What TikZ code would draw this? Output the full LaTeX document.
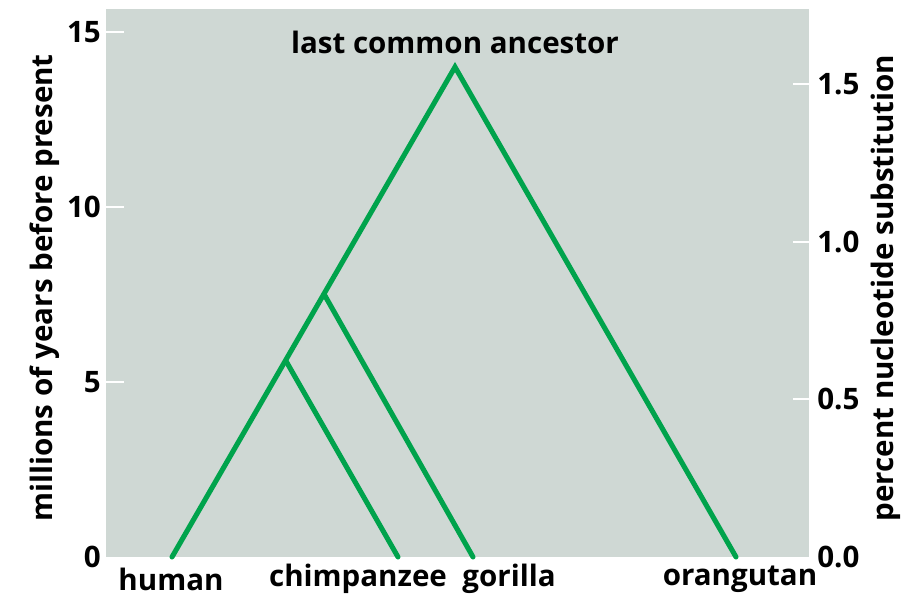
\documentclass[tikz,border=0pt]{standalone}
\usepackage{fontspec}
\setmainfont{Open Sans}
\usetikzlibrary{positioning}
\definecolor{panelgray}{RGB}{207,216,212}
\definecolor{treegreen}{RGB}{0,163,76}

\begin{document}
\begin{tikzpicture}[x=0.025cm,y=-0.025cm,
  branch/.style={treegreen,line width=3.6pt,line cap=round,line join=miter},
  tick/.style={white,line width=2pt},
  lbl/.style={font=\fontsize{21}{24}\selectfont\bfseries,inner sep=0pt}]
\useasboundingbox (0,0) rectangle (914,597);
\fill[panelgray] (106,9) rectangle (809,557);

% left axis (millions of years)
\foreach \v/\y in {15/32,10/207,5/382}{
  \draw[tick] (106,\y) -- (124,\y);
}
\foreach \v/\y in {15/32,10/207,5/382,0/557}{
  \node[lbl,anchor=east] (l\v) at (101,\y) {\v};
}
% right axis (percent substitution)
\foreach \y in {84,242,399}{
  \draw[tick] (793,\y) -- (809,\y);
}
\foreach \v/\n/\y in {1.5/a/84,1.0/b/242,0.5/c/399,0.0/d/557}{
  \node[lbl,anchor=west] (r\n) at (817,\y) {\v};
}

\node[lbl,rotate=90] (ytitle) at (45,288) {millions of years before present};
\node[lbl,rotate=90] (ztitle) at (886,288) {percent nucleotide substitution};
\node[lbl] (lcatext) at (455,42) {last common ancestor};

\coordinate (human) at (172,557);
\coordinate (chimp) at (398,557);
\coordinate (gorilla) at (473,557);
\coordinate (orang) at (736,557);
\coordinate (lca) at (455,67);
\coordinate (hc) at (286,361);
\coordinate (hcg) at (324,294);

\draw[branch] (human) -- (lca) -- (orang);
\draw[branch] (hc) -- (chimp);
\draw[branch] (hcg) -- (gorilla);

\node[lbl] (humantext) at (171,579) {human};
\node[lbl] (chimptext) at (358,579) {chimpanzee};
\node[lbl] (gortext) at (509,579) {gorilla};
\node[lbl] (orangtext) at (740,579) {orangutan};
\end{tikzpicture}
\end{document}
